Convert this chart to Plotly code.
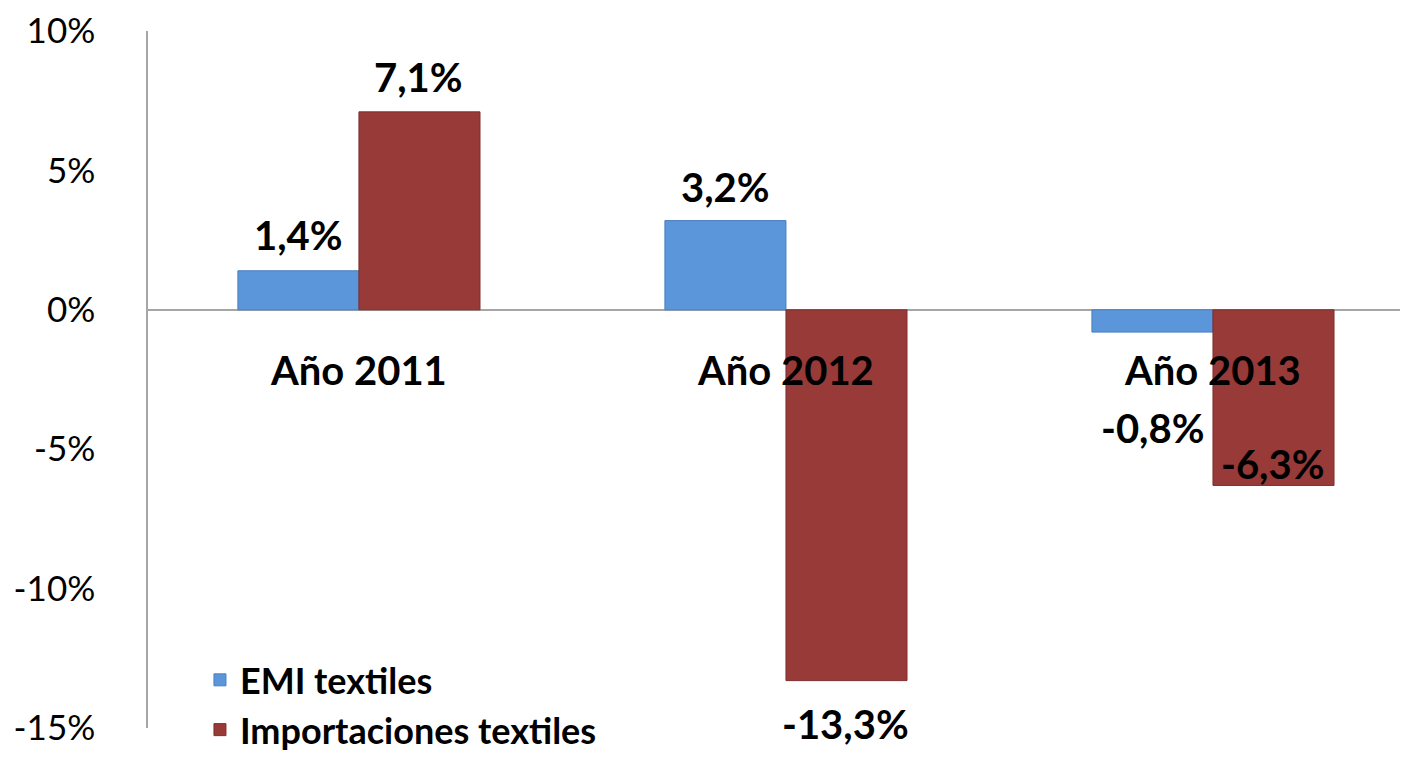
import plotly.graph_objects as go

categories = ["Año 2011", "Año 2012", "Año 2013"]
emi_textiles = [1.4, 3.2, -0.8]
importaciones_textiles = [7.1, -13.3, -6.3]
series_names = ["EMI textiles", "Importaciones textiles"]
y_ticks = [10, 5, 0, -5, -10, -15]
y_tick_labels = ["10%", "5%", "0%", "-5%", "-10%", "-15%"]

BLUE = "#5B95DA"
RED = "#973A38"
FONT = "Lato"

def fmt(v):
    return f"{v:.1f}".replace(".", ",") + "%"

fig = go.Figure()
fig.add_trace(go.Bar(x=categories, y=emi_textiles, name=series_names[0],
                     marker=dict(color=BLUE, line=dict(color="#4A7FC0", width=1)),
                     legendgroup="a"))
fig.add_trace(go.Bar(x=categories, y=importaciones_textiles, name=series_names[1],
                     marker=dict(color=RED, line=dict(color="#7E2E2C", width=1)),
                     legendgroup="b"))

# data labels (style offsets only)
label_style = [
    (emi_textiles, -60, [36, 34, -96]),
    (importaciones_textiles, 60, [35, -43, 21]),
]
annotations = []
for vals, xs, yss in label_style:
    for c, v, ys in zip(categories, vals, yss):
        annotations.append(dict(x=c, y=v, text=fmt(v), showarrow=False,
                                xshift=xs, yshift=ys, yanchor="middle",
                                font=dict(family=FONT, size=40, color="black", weight="bold")))
for c in categories:
    annotations.append(dict(x=c, y=0, text=c, showarrow=False, yshift=-60,
                            yanchor="middle",
                            font=dict(family=FONT, size=40, color="black", weight="bold")))

fig.update_layout(
    width=1392, height=747,
    margin=dict(l=140, r=0, t=23, b=27, autoexpand=False),
    plot_bgcolor="white", paper_bgcolor="white",
    barmode="group", bargap=0.433, bargroupgap=0,
    font=dict(family=FONT, color="black"),
    showlegend=True,
    legend=dict(x=0.0415, y=0.112, xanchor="left", yanchor="top",
                font=dict(family=FONT, size=36, color="black", weight="bold"),
                bgcolor="rgba(0,0,0,0)", tracegroupgap=0,
                traceorder="grouped"),
    annotations=annotations,
    xaxis=dict(showticklabels=False, showline=False, ticks="",
               showgrid=False, zeroline=False, range=[-0.494, 2.438]),
    yaxis=dict(range=[-15, 10], tickvals=y_ticks, ticktext=y_tick_labels,
               showgrid=False, zeroline=True, zerolinecolor="#A6A6A6",
               zerolinewidth=1.5, showline=True, linecolor="#A6A6A6",
               linewidth=1.5, ticks="", ticklabelstandoff=44,
               ticklabeloverflow="allow",
               tickfont=dict(family=FONT, size=35, color="black")),
)

fig.write_html("out.html")
